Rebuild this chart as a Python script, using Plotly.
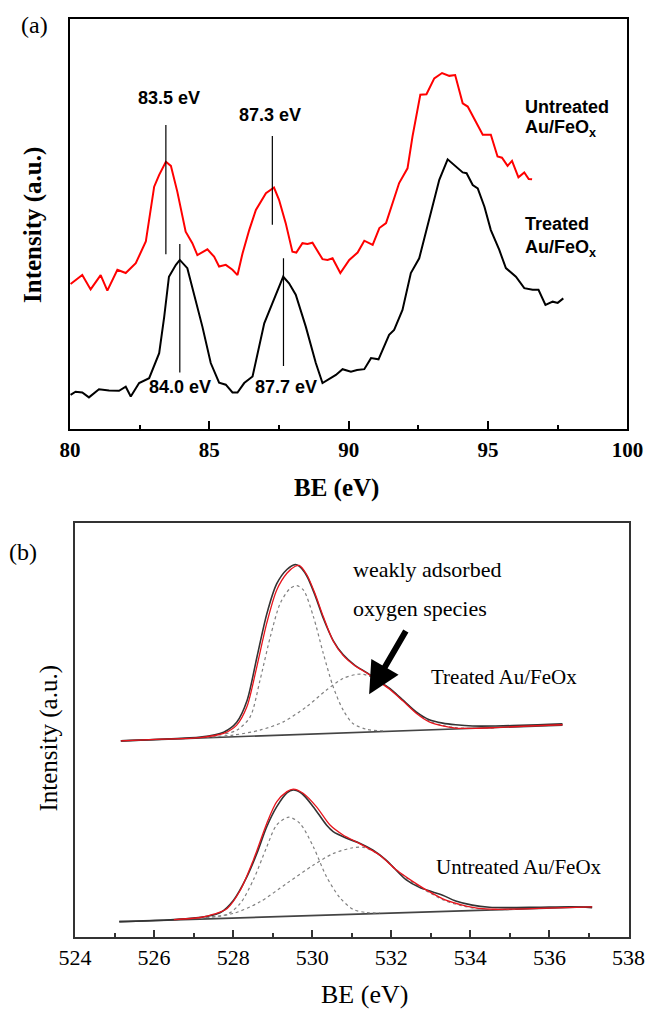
import plotly.graph_objects as go

# ---------------- Panel (a): Au 4f region ----------------
a_untreated_x = [80.02, 80.44, 80.74, 81.1, 81.34, 81.7, 82.0, 82.36, 82.72, 83.02, 83.2, 83.44, 83.62, 83.85,
                 84.15, 84.39, 84.57, 84.75, 84.93, 85.17, 85.35, 85.59, 85.83, 86.01, 86.19, 86.43, 86.67,
                 87.03, 87.32, 87.5, 87.74, 87.98, 88.12, 88.34, 88.52, 88.7, 89.06, 89.24, 89.42, 89.7,
                 90.02, 90.32, 90.56, 90.86, 91.1, 91.34, 91.55, 91.81, 92.11, 92.29, 92.57, 92.79, 93.07,
                 93.35, 93.61, 93.82, 94.09, 94.27, 94.81, 95.1, 95.34, 95.5, 95.7, 95.86, 96.09, 96.3,
                 96.46, 96.58]
a_untreated_y = [35.9, 38.1, 34.6, 38.1, 34.3, 39.4, 38.6, 41.0, 46.3, 59.7, 62.6, 65.8, 64.8, 58.5,
                 48.7, 45.9, 43.0, 43.8, 44.4, 42.6, 40.2, 40.6, 39.4, 38.1, 43.4, 49.1, 54.0,
                 58.1, 59.5, 56.5, 50.8, 43.8, 43.6, 45.9, 45.7, 46.0, 42.0, 41.8, 42.2, 38.6,
                 41.8, 43.6, 46.5, 45.5, 49.6, 50.8, 55.0, 60.6, 64.2, 72.0, 82.2, 82.3, 86.2,
                 87.5, 86.8, 87.0, 80.1, 79.3, 72.4, 72.4, 67.1, 66.8, 64.8, 66.0, 62.0, 63.2,
                 61.6, 61.5]

a_treated_x = [80.02, 80.2, 80.44, 80.68, 81.04, 81.4, 81.76, 82.0, 82.18, 82.48, 82.84, 83.2, 83.38,
               83.55, 83.8, 83.94, 84.21, 84.45, 84.75, 85.05, 85.35, 85.59, 85.83, 86.01, 86.25, 86.55,
               86.73, 86.97, 87.26, 87.65, 87.86, 88.1, 88.46, 88.82, 89.06, 89.3, 89.54, 89.78, 90.08,
               90.3, 90.56, 90.8, 91.07, 91.45, 91.63, 91.93, 92.23, 92.53, 92.89, 93.25, 93.55, 93.79,
               94.09, 94.23, 94.45, 94.63, 94.87, 95.1, 95.4, 95.64, 96.0, 96.3, 96.6, 96.81, 97.06,
               97.32, 97.5, 97.7]
a_treated_y = [8.8, 9.6, 9.4, 8.2, 10.2, 9.9, 9.8, 10.8, 8.4, 11.7, 12.9, 19.0, 27.9,
               37.7, 40.6, 41.8, 39.8, 33.7, 25.5, 16.6, 11.8, 11.3, 9.4, 9.4, 11.7, 13.3,
               19.0, 26.3, 31.2, 37.7, 36.1, 33.3, 25.5, 16.6, 11.7, 12.6, 13.7, 15.1, 14.5,
               14.9, 15.1, 17.8, 17.5, 23.5, 24.7, 29.6, 38.6, 42.2, 51.6, 61.4, 66.4, 65.0,
               63.2, 63.0, 60.1, 59.3, 54.8, 49.1, 44.3, 39.8, 37.7, 34.9, 34.5, 34.5, 30.8,
               31.6, 31.3, 32.4]

# peak markers: label text, marker-line position, line top/bottom, label height
a_peak_labels = ["83.5 eV", "87.3 eV", "84.0 eV", "87.7 eV"]
a_peak_x = [83.44, 87.26, 83.94, 87.66]
a_peak_top = [74.8, 72.1, 45.7, 42.2]
a_peak_bottom = [43.2, 50.4, 14.3, 15.9]
a_label_x = [83.55, 87.17, 83.94, 87.74]
a_label_y = [81.3, 77.3, 10.8, 10.8]

a_ticks = [80, 85, 90, 95, 100]

# ---------------- Panel (b): O 1s region ----------------
b_tr_data_x = [525.16, 526.2, 527.17, 527.76, 528.09, 528.35, 528.6, 528.85, 529.1, 529.36, 529.57,
               529.67, 529.86, 530.07, 530.28, 530.53, 530.78, 531.08, 531.37, 531.62, 531.96, 532.29,
               532.63, 532.96, 533.3, 533.63, 534.05, 534.64, 535.48, 536.0, 536.33]
b_tr_data_y = [47.3, 47.7, 48.2, 49.4, 51.8, 57.0, 67.5, 78.0, 85.3, 88.8, 90.0,
               89.6, 87.3, 82.6, 77.0, 71.6, 68.2, 65.6, 63.9, 62.2, 60.0, 57.2,
               54.3, 52.4, 51.6, 51.2, 50.9, 50.9, 51.1, 51.3, 51.4]
b_tr_fit_x = [525.16, 526.2, 527.17, 527.76, 528.09, 528.35, 528.6, 528.85, 529.1, 529.36, 529.57,
              529.67, 529.86, 530.07, 530.28, 530.53, 530.78, 531.08, 531.37, 531.62, 531.96, 532.29,
              532.63, 532.96, 533.3, 533.63, 534.05, 534.64, 535.48, 536.33]
b_tr_fit_y = [47.3, 47.7, 48.1, 49.1, 51.1, 55.6, 65.3, 75.8, 83.8, 87.9, 89.6,
              89.8, 87.6, 83.0, 77.4, 71.5, 68.0, 65.5, 63.8, 62.1, 59.8, 57.0,
              54.0, 51.9, 50.9, 50.4, 50.3, 50.5, 50.9, 51.2]
b_tr_c1_x = [527.8, 528.1, 528.43, 528.68, 528.94, 529.19, 529.44, 529.61, 529.78, 530.03, 530.28,
             530.53, 530.78, 531.03, 531.37, 531.79]
b_tr_c1_y = [49.0, 49.9, 53.1, 62.0, 72.5, 80.6, 84.2, 84.9, 83.8, 77.4, 68.5,
             60.4, 54.8, 51.5, 50.1, 49.7]
b_tr_c2_x = [527.17, 528.01, 528.68, 529.27, 529.86, 530.36, 530.78, 531.12, 531.3, 531.62, 531.96,
             532.29, 532.63, 532.96, 533.3, 533.63, 534.05, 534.64]
b_tr_c2_y = [48.1, 48.7, 49.9, 51.9, 55.6, 59.6, 62.4, 63.4, 63.4, 62.2, 60.0,
             57.2, 54.2, 52.1, 51.0, 50.5, 50.3, 50.4]
b_tr_base_x = [525.16, 536.33]
b_tr_base_y = [47.3, 51.1]

b_un_data_x = [525.12, 526.33, 526.92, 527.34, 527.68, 528.01, 528.35, 528.6, 528.85, 529.1, 529.36,
               529.52, 529.73, 530.03, 530.36, 530.53, 530.87, 531.2, 531.54, 531.87, 532.04, 532.38,
               532.71, 533.05, 533.3, 533.63, 534.05, 534.48, 534.9, 535.74, 536.58, 537.08]
b_un_data_y = [3.5, 3.9, 4.3, 4.8, 5.7, 8.7, 14.4, 20.0, 26.5, 31.3, 34.7,
               35.4, 34.6, 31.3, 26.9, 25.3, 23.7, 22.5, 20.8, 18.4, 16.8, 13.6,
               11.8, 10.7, 9.9, 8.5, 7.5, 7.0, 6.9, 7.0, 7.1, 6.9]
b_un_fit_x = [526.5, 527.17, 527.51, 527.85, 528.18, 528.51, 528.85, 529.1, 529.36, 529.52, 529.77,
              530.11, 530.45, 530.78, 531.2, 531.71, 532.13, 532.55, 532.97, 533.38, 533.8, 534.22,
              534.64, 535.74, 537.08]
b_un_fit_y = [4.0, 4.5, 5.3, 6.7, 11.1, 18.4, 27.3, 32.5, 35.0, 35.6, 34.6,
              31.3, 26.9, 24.5, 22.4, 19.6, 16.0, 13.2, 10.7, 8.7, 7.5, 6.7,
              6.5, 6.7, 7.1]
b_un_c1_x = [527.0, 527.85, 528.18, 528.51, 528.85, 529.1, 529.41, 529.69, 530.03, 530.36, 530.7,
             531.03, 531.37, 531.71]
b_un_c1_y = [4.4, 5.3, 7.9, 13.6, 21.6, 26.9, 28.8, 27.3, 21.6, 14.4, 9.3,
             6.5, 5.7, 5.6]
b_un_c2_x = [527.17, 528.01, 528.68, 529.36, 530.03, 530.53, 531.03, 531.3, 531.71, 532.13, 532.55,
             532.97, 533.38, 533.8, 534.22, 534.64, 535.2]
b_un_c2_y = [4.3, 5.5, 8.3, 12.8, 17.2, 20.0, 21.4, 21.5, 19.6, 16.0, 13.0,
             10.5, 8.5, 7.3, 6.6, 6.4, 6.5]
b_un_base_x = [525.12, 537.08]
b_un_base_y = [3.5, 7.1]

fig = go.Figure()

# panel (a) traces
fig.add_trace(go.Scatter(x=a_untreated_x, y=a_untreated_y, mode="lines",
                         line=dict(color="#ff0000", width=2), xaxis="x", yaxis="y"))
fig.add_trace(go.Scatter(x=a_treated_x, y=a_treated_y, mode="lines",
                         line=dict(color="#000000", width=2), xaxis="x", yaxis="y"))
for px, pt, pb in zip(a_peak_x, a_peak_top, a_peak_bottom):
    fig.add_trace(go.Scatter(x=[px, px], y=[pb, pt], mode="lines",
                             line=dict(color="#000000", width=1.2), xaxis="x", yaxis="y"))

# panel (b) traces
dot = dict(color="#808080", width=1.2, dash="dot")
for bx, by in [(b_tr_base_x, b_tr_base_y), (b_un_base_x, b_un_base_y)]:
    fig.add_trace(go.Scatter(x=bx, y=by, mode="lines", line=dict(color="#444444", width=1.6),
                             xaxis="x2", yaxis="y2"))
for cx, cy in [(b_tr_c1_x, b_tr_c1_y), (b_tr_c2_x, b_tr_c2_y), (b_un_c1_x, b_un_c1_y), (b_un_c2_x, b_un_c2_y)]:
    fig.add_trace(go.Scatter(x=cx, y=cy, mode="lines", line=dict(shape="spline", smoothing=0.8, **dot),
                             xaxis="x2", yaxis="y2"))
for dx, dy in [(b_tr_data_x, b_tr_data_y), (b_un_data_x, b_un_data_y)]:
    fig.add_trace(go.Scatter(x=dx, y=dy, mode="lines",
                             line=dict(color="#333333", width=1.6, shape="spline", smoothing=0.8),
                             xaxis="x2", yaxis="y2"))
for fx, fy in [(b_tr_fit_x, b_tr_fit_y), (b_un_fit_x, b_un_fit_y)]:
    fig.add_trace(go.Scatter(x=fx, y=fy, mode="lines",
                             line=dict(color="#e8141c", width=1.3, shape="spline", smoothing=0.8),
                             xaxis="x2", yaxis="y2"))

serif = "Liberation Serif, Times New Roman, serif"
sans = "Liberation Sans, Arial, sans-serif"

annotations = []
for txt, lx, ly in zip(a_peak_labels, a_label_x, a_label_y):
    annotations.append(dict(x=lx, y=ly, xref="x", yref="y", text=txt, showarrow=False,
                            xanchor="center", yanchor="middle",
                            font=dict(family=sans, size=18, color="black", weight="bold")))
for txt, ly in [("Untreated", 79.3), ("Au/FeO<sub>x</sub>", 74.0), ("Treated", 50.5), ("Au/FeO<sub>x</sub>", 44.7)]:
    annotations.append(dict(x=96.27, y=ly, xref="x", yref="y", text=txt, showarrow=False,
                            xanchor="left", yanchor="middle",
                            font=dict(family=sans, size=18, color="black", weight="bold")))
# panel b texts
annotations += [
    dict(x=530.97, y=88.7, xref="x2", yref="y2", text="weakly adsorbed", showarrow=False,
         xanchor="left", yanchor="middle", font=dict(family=serif, size=22, color="black")),
    dict(x=530.97, y=79.4, xref="x2", yref="y2", text="oxygen species", showarrow=False,
         xanchor="left", yanchor="middle", font=dict(family=serif, size=22, color="black")),
    dict(x=532.96, y=62.7, xref="x2", yref="y2", text="Treated Au/FeOx", showarrow=False,
         xanchor="left", yanchor="middle", font=dict(family=serif, size=21, color="black")),
    dict(x=533.07, y=16.8, xref="x2", yref="y2", text="Untreated Au/FeOx", showarrow=False,
         xanchor="left", yanchor="middle", font=dict(family=serif, size=21, color="black")),
    dict(x=531.44, y=58.6, xref="x2", yref="y2", ax=532.39, ay=74.3, axref="x2", ayref="y2",
         text="", showarrow=True, arrowhead=2, arrowsize=1.05, arrowwidth=6, arrowcolor="black",
         standoff=0),
]
# axis titles and panel labels
annotations += [
    dict(x=33 / 647, y=1 - 225 / 1010, xref="paper", yref="paper", text="Intensity (a.u.)",
         textangle=-90, showarrow=False, xanchor="center", yanchor="middle",
         font=dict(family=serif, size=25, color="black", weight="bold")),
    dict(x=336 / 647, y=1 - 487.7 / 1010, xref="paper", yref="paper", text="BE (eV)",
         showarrow=False, xanchor="center", yanchor="middle",
         font=dict(family=serif, size=25, color="black", weight="bold")),
    dict(x=48 / 647, y=1 - 738.5 / 1010, xref="paper", yref="paper", text="Intensity (a.u.)",
         textangle=-90, showarrow=False, xanchor="center", yanchor="middle",
         font=dict(family=serif, size=25, color="black")),
    dict(x=364.5 / 647, y=1 - 994 / 1010, xref="paper", yref="paper", text="BE (eV)",
         showarrow=False, xanchor="center", yanchor="middle",
         font=dict(family=serif, size=26, color="black")),
    dict(x=34 / 647, y=1 - 25 / 1010, xref="paper", yref="paper", text="(a)",
         showarrow=False, xanchor="center", yanchor="middle",
         font=dict(family=serif, size=24, color="black")),
    dict(x=22.5 / 647, y=1 - 551.7 / 1010, xref="paper", yref="paper", text="(b)",
         showarrow=False, xanchor="center", yanchor="middle",
         font=dict(family=serif, size=24, color="black")),
]

W, H = 647, 1010
fig.update_layout(
    width=W, height=H, autosize=False, margin=dict(l=0, r=0, t=0, b=0, pad=0, autoexpand=False),
    paper_bgcolor="white", plot_bgcolor="white", showlegend=False,
    annotations=annotations,
    xaxis=dict(domain=[70 / W, 627.4 / W], range=[80, 100], tickvals=a_ticks, automargin=False,
               ticks="inside", ticklen=8, tickwidth=1.5, tickcolor="black",
               minor=dict(dtick=2.5, tick0=80, ticks="inside", ticklen=4, tickwidth=1.5, tickcolor="black"),
               showline=True, linecolor="black", linewidth=2, mirror=True, showgrid=False, zeroline=False,
               tickfont=dict(family=serif, size=21, color="black", weight="bold"), anchor="y"),
    yaxis=dict(domain=[1 - 429.3 / H, 1 - 19 / H], range=[0.4, 100.7], showticklabels=False, ticks="",
               automargin=False,
               showline=True, linecolor="black", linewidth=2, mirror=True, showgrid=False, zeroline=False,
               anchor="x"),
    xaxis2=dict(domain=[75 / W, 628.5 / W], range=[524, 538], dtick=2, tick0=524, automargin=False,
                ticks="inside", ticklen=7, tickwidth=1.5, tickcolor="#333333",
                minor=dict(dtick=1, tick0=524, ticks="inside", ticklen=4, tickwidth=1.5, tickcolor="#333333"),
                showline=True, linecolor="#333333", linewidth=2, mirror=True, showgrid=False, zeroline=False,
                tickfont=dict(family=serif, size=22, color="black"), anchor="y2"),
    yaxis2=dict(domain=[1 - 936.5 / H, 1 - 523.3 / H], range=[-0.1, 100], showticklabels=False, ticks="",
                automargin=False,
                showline=True, linecolor="#333333", linewidth=2, mirror=True, showgrid=False, zeroline=False,
                anchor="x2"),
)

post = ("document.documentElement.style.margin='0';document.documentElement.style.overflow='hidden';"
        "document.body.style.margin='0';document.body.style.padding='0';document.body.style.overflow='hidden';"
        "Plotly.relayout('{plot_id}', {width: 647, height: 1010});")
fig.write_html("out.html", config={"responsive": False, "displayModeBar": False},
               default_width="647px", default_height="1010px", post_script=post)
